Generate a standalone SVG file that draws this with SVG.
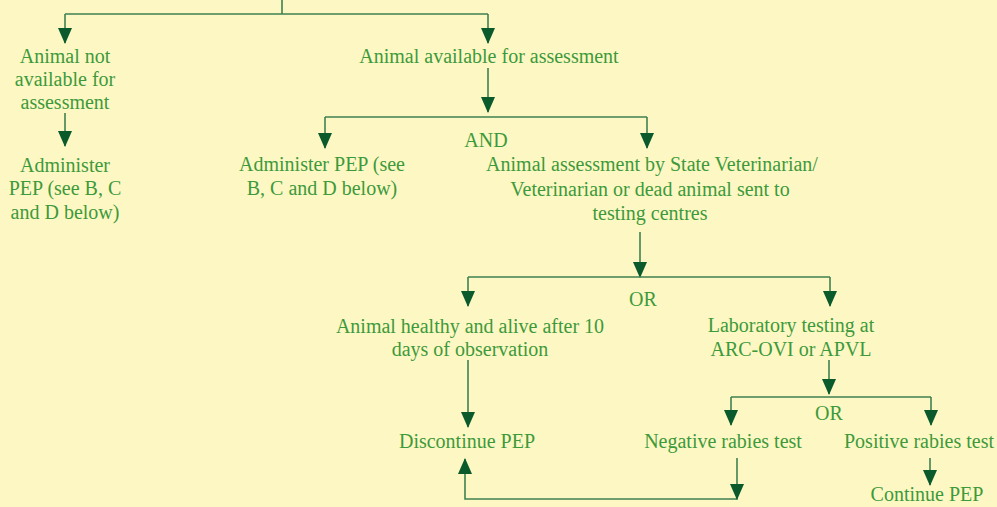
<svg xmlns="http://www.w3.org/2000/svg" width="997" height="507" viewBox="0 0 997 507">
<style>
  .bg{fill:#fdf7c4}
  .t text{font-size:20px;fill:#3d9a3b;text-anchor:middle}
  .c{fill:none;stroke:#3f8150;stroke-width:1.6}
</style>
<defs>
  <marker id="ad" markerUnits="userSpaceOnUse" markerWidth="14" markerHeight="16" viewBox="0 0 14 16" refX="7" refY="15" orient="0">
    <path d="M0,0 L14,0 L7,16 Z" fill="#0b5a2c"/>
  </marker>
  <marker id="au" markerUnits="userSpaceOnUse" markerWidth="14" markerHeight="16" viewBox="0 0 14 16" refX="7" refY="1" orient="0">
    <path d="M0,16 L14,16 L7,0 Z" fill="#0b5a2c"/>
  </marker>
</defs>
<rect class="bg" x="0" y="0" width="997" height="507"/>
<g id="connectors">
  <path class="c" d="M282,0 V14 M65,14 H488"/>
  <path class="c" d="M65,14 V43" marker-end="url(#ad)"/>
  <path class="c" d="M488,14 V43" marker-end="url(#ad)"/>
  <path class="c" d="M65,113 V146" marker-end="url(#ad)"/>
  <path class="c" d="M488,68 V112" marker-end="url(#ad)"/>
  <path class="c" d="M325,117 H647"/>
  <path class="c" d="M325,117 V148" marker-end="url(#ad)"/>
  <path class="c" d="M647,117 V148" marker-end="url(#ad)"/>
  <path class="c" d="M640,232 V277" marker-end="url(#ad)"/>
  <path class="c" d="M468,277 H830"/>
  <path class="c" d="M468,277 V306" marker-end="url(#ad)"/>
  <path class="c" d="M830,277 V306" marker-end="url(#ad)"/>
  <path class="c" d="M468,360 V427" marker-end="url(#ad)"/>
  <path class="c" d="M829,360 V394" marker-end="url(#ad)"/>
  <path class="c" d="M731,397 H931"/>
  <path class="c" d="M731,397 V425" marker-end="url(#ad)"/>
  <path class="c" d="M931,397 V425" marker-end="url(#ad)"/>
  <path class="c" d="M930,458 V485" marker-end="url(#ad)"/>
  <path class="c" d="M737,458 V499 H465 V459"/>
  <path class="c" d="M737,458 V499" marker-end="url(#ad)" stroke-opacity="0"/>
  <path class="c" d="M465,499 V459" marker-end="url(#au)" stroke-opacity="0"/>
</g>
<g class="t" font-family="'Liberation Serif', 'Times New Roman', serif">
<g id="not-available">
  <text x="65" y="63">Animal not</text>
  <text x="65" y="86">available for</text>
  <text x="65" y="109">assessment</text>
</g>
<g id="administer-left">
  <text x="65" y="172">Administer</text>
  <text x="65" y="195">PEP (see B, C</text>
  <text x="65" y="219">and D below)</text>
</g>
<g id="available">
  <text x="489" y="63">Animal available for assessment</text>
</g>
<g id="and-label">
  <text x="486" y="147">AND</text>
</g>
<g id="administer-mid">
  <text x="322" y="171">Administer PEP (see</text>
  <text x="322" y="195">B, C and D below)</text>
</g>
<g id="assessment">
  <text x="652" y="171">Animal assessment by State Veterinarian/</text>
  <text x="650" y="196">Veterinarian or dead animal sent to</text>
  <text x="650" y="220">testing centres</text>
</g>
<g id="or1">
  <text x="643" y="306">OR</text>
</g>
<g id="healthy">
  <text x="470" y="333">Animal healthy and alive after 10</text>
  <text x="470" y="356">days of observation</text>
</g>
<g id="lab">
  <text x="791" y="332">Laboratory testing at</text>
  <text x="791" y="356">ARC-OVI or APVL</text>
</g>
<g id="or2">
  <text x="829" y="420">OR</text>
</g>
<g id="discontinue">
  <text x="467" y="448">Discontinue PEP</text>
</g>
<g id="negative">
  <text x="723" y="448">Negative rabies test</text>
</g>
<g id="positive">
  <text x="919" y="448">Positive rabies test</text>
</g>
<g id="continue">
  <text x="927" y="501">Continue PEP</text>
</g>
</g>
</svg>
